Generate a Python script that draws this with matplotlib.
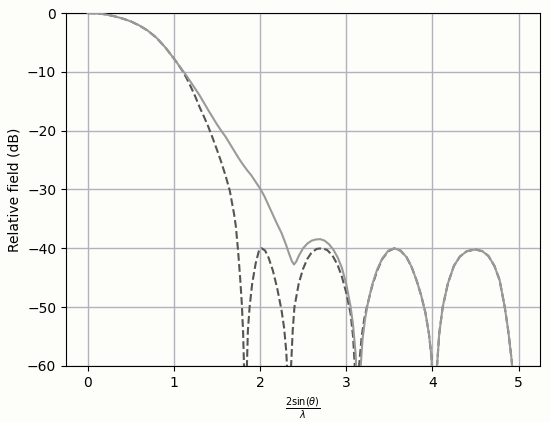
import matplotlib
matplotlib.use("Agg")
import matplotlib.pyplot as plt

# Dashed curve (ideal pattern): u = 2 sin(theta)/lambda, relative field in dB
u_ideal = [0.0, 0.1, 0.2, 0.3, 0.4, 0.5, 0.6, 0.7, 0.8, 0.9, 1.0, 1.05, 1.1, 1.15, 1.2,
           1.25, 1.3, 1.35, 1.4, 1.45, 1.5, 1.55, 1.6, 1.65, 1.7, 1.72, 1.745, 1.77,
           1.79, 1.805, 1.815, 1.825,
           1.835, 1.845, 1.86, 1.88, 1.91, 1.95, 1.99, 2.02, 2.06, 2.10, 2.15, 2.2,
           2.25, 2.28, 2.305, 2.32, 2.33,
           2.34, 2.355, 2.38, 2.40, 2.45, 2.5, 2.55, 2.6, 2.66, 2.72, 2.78, 2.84, 2.9,
           2.95, 3.0, 3.05, 3.08, 3.10, 3.115,
           3.13, 3.15, 3.18, 3.21, 3.24, 3.3, 3.36, 3.42, 3.49, 3.56, 3.63, 3.7, 3.76,
           3.82, 3.87, 3.92, 3.96, 3.99, 4.01, 4.02,
           4.03, 4.045, 4.08, 4.12, 4.18, 4.25, 4.32, 4.4, 4.5, 4.58, 4.65, 4.72, 4.78,
           4.84, 4.88, 4.92, 4.945, 4.96, 5.0]
db_ideal = [0.0, -0.05, -0.2, -0.5, -0.9, -1.4, -2.1, -3.0, -4.2, -5.8, -7.7, -8.7, -9.8, -11.1, -12.6,
            -14.2, -16.0, -17.6, -19.3, -21.2, -23.2, -25.3, -27.6, -30.2, -34.2, -36.2, -40.2, -45.0,
            -49.5, -54.5, -60.0, -75.0,
            -75.0, -62.0, -54.0, -50.0, -46.0, -42.6, -40.3, -40.0, -40.4, -41.6, -43.8, -46.8,
            -50.5, -53.5, -57.5, -62.0, -78.0,
            -78.0, -62.0, -54.0, -50.0, -46.0, -43.5, -41.8, -40.7, -40.1, -40.0, -40.3, -41.2, -42.8,
            -44.8, -47.5, -51.0, -55.0, -60.0, -75.0,
            -75.0, -60.0, -55.0, -52.0, -50.0, -46.5, -43.8, -41.8, -40.5, -40.0, -40.4, -41.5, -43.2,
            -45.6, -48.0, -51.0, -54.5, -58.5, -65.0, -80.0,
            -80.0, -62.0, -54.5, -50.0, -46.0, -43.0, -41.4, -40.5, -40.2, -40.5, -41.3, -43.0, -45.4,
            -50.0, -54.0, -59.0, -64.0, -75.0, -75.0]

# Solid curve (realised pattern)
u_real = [0.0, 0.1, 0.2, 0.3, 0.4, 0.5, 0.6, 0.7, 0.8, 0.9, 1.0, 1.05, 1.1, 1.15, 1.2,
          1.25, 1.3, 1.34, 1.4, 1.45, 1.5, 1.55, 1.6, 1.65, 1.7, 1.75, 1.8, 1.85, 1.9,
          1.95, 2.0, 2.05, 2.1, 2.15, 2.2, 2.25, 2.3, 2.34, 2.37, 2.395, 2.42, 2.45,
          2.5, 2.55, 2.6, 2.65, 2.70, 2.75, 2.8, 2.85, 2.9, 2.95, 3.0, 3.05, 3.08,
          3.11, 3.13, 3.14,
          3.145, 3.16, 3.19, 3.22, 3.25, 3.3, 3.36, 3.42, 3.49, 3.56, 3.63, 3.7, 3.76,
          3.82, 3.87, 3.92, 3.96, 3.99, 4.01, 4.02,
          4.03, 4.045, 4.08, 4.12, 4.18, 4.25, 4.32, 4.4, 4.5, 4.58, 4.65, 4.72, 4.78,
          4.84, 4.88, 4.92, 4.945, 4.96, 5.0]
db_real = [0.0, -0.05, -0.2, -0.5, -0.9, -1.4, -2.1, -3.0, -4.2, -5.8, -7.7, -8.7, -9.7, -10.7, -11.8,
           -12.9, -14.0, -15.0, -16.5, -17.7, -18.9, -20.0, -21.0, -22.2, -23.4, -24.6, -25.7, -26.7, -27.6,
           -28.7, -29.8, -31.1, -32.7, -34.3, -35.9, -37.4, -39.3, -41.0, -42.2, -42.75, -42.3, -41.3,
           -40.0, -39.2, -38.7, -38.5, -38.45, -38.7, -39.3, -40.2, -41.5, -43.3, -46.0, -49.8, -53.0,
           -58.0, -65.0, -80.0,
           -80.0, -62.0, -55.5, -52.0, -49.5, -46.3, -43.6, -41.7, -40.4, -40.0, -40.4, -41.5, -43.2,
           -45.6, -48.0, -51.0, -54.5, -58.5, -65.0, -80.0,
           -80.0, -62.0, -54.5, -50.0, -46.0, -43.0, -41.4, -40.5, -40.2, -40.5, -41.3, -43.0, -45.4,
           -50.0, -54.0, -59.0, -64.0, -75.0, -75.0]

x_ticks = [0, 1, 2, 3, 4, 5]
y_ticks = [0, -10, -20, -30, -40, -50, -60]

bg = "#fdfdf9"
fig = plt.figure(figsize=(5.5, 4.22), dpi=100, facecolor=bg)
ax = fig.add_axes([0.12, 0.133, 0.862, 0.836], facecolor=bg)

ax.plot(u_ideal, db_ideal, color="#555555", linewidth=1.5, linestyle="--", zorder=2)
ax.plot(u_real, db_real, color="#9a9a9a", linewidth=1.5, zorder=3)

ax.set_ylim(-60, 0)
ax.set_xlim(-0.25, 5.25)
ax.set_xticks(x_ticks)
ax.set_yticks(y_ticks)
ax.grid(True, color="#b0b2bc", linewidth=1.0)
ax.set_axisbelow(True)
ax.set_ylabel("Relative field (dB)")
ax.set_xlabel(r"$\frac{2\sin(\theta)}{\lambda}$")

fig.savefig("out.png", dpi=100, facecolor=bg)
